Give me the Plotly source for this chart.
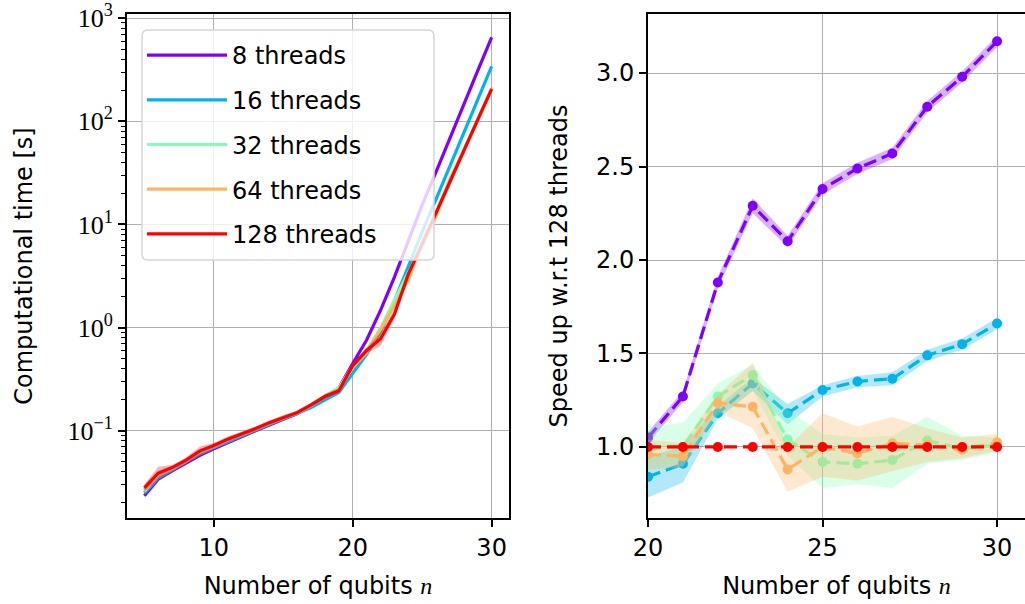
import plotly.graph_objects as go

# ---------------- data ----------------
n_left = list(range(5, 31))
t_8 = [0.0235, 0.034, 0.041, 0.049, 0.058, 0.067, 0.077, 0.088, 0.100, 0.114, 0.130, 0.147, 0.175, 0.215, 0.26,
       0.45, 0.76, 1.47, 3.09, 6.9, 15.5, 32.4, 69.4, 147, 310, 650]
t_16 = [0.025, 0.035, 0.042, 0.050, 0.060, 0.069, 0.079, 0.090, 0.102, 0.116, 0.131, 0.146, 0.168, 0.200, 0.235,
        0.36, 0.55, 0.92, 1.81, 3.9, 8.5, 17.6, 36.9, 77.5, 161, 340]
t_32 = [0.026, 0.037, 0.043, 0.052, 0.062, 0.071, 0.082, 0.092, 0.104, 0.119, 0.134, 0.149, 0.176, 0.220, 0.26,
        0.426, 0.60, 0.99, 1.87, 3.43, 5.98, 11.8, 25.1, 53.8, 103, 207]
t_64 = [0.027, 0.038, 0.0435, 0.051, 0.063, 0.071, 0.082, 0.093, 0.105, 0.120, 0.135, 0.150, 0.177, 0.215, 0.25,
        0.413, 0.57, 0.963, 1.64, 2.9, 6.5, 12.5, 27.5, 52.5, 102, 210]
t_128 = [0.028, 0.039, 0.044, 0.052, 0.064, 0.072, 0.083, 0.093, 0.105, 0.120, 0.135, 0.150, 0.178, 0.215, 0.245,
         0.43, 0.60, 0.78, 1.35, 3.3, 6.5, 13.0, 27.0, 52.0, 104, 205]
# relative spread of the timing bands (left panel)
rel_8 = [0.03] * 26
rel_16 = [0.04] * 26
rel_32 = [0.04] * 26
rel_64 = [0.05] * 26
rel_128 = [0.08, 0.15, 0.06, 0.06, 0.10, 0.06, 0.06, 0.05, 0.05, 0.05, 0.05, 0.05, 0.05, 0.05, 0.05,
           0.06, 0.06, 0.15, 0.10, 0.06, 0.05, 0.05, 0.05, 0.05, 0.05, 0.05]

n_right = list(range(20, 31))
s_8 = [1.05, 1.27, 1.88, 2.29, 2.10, 2.38, 2.49, 2.57, 2.82, 2.98, 3.17]
s_8_lo = [1.02, 1.24, 1.85, 2.25, 2.07, 2.35, 2.46, 2.54, 2.79, 2.95, 3.14]
s_8_hi = [1.08, 1.30, 1.91, 2.33, 2.13, 2.41, 2.52, 2.60, 2.85, 3.01, 3.20]
s_16 = [0.84, 0.91, 1.18, 1.34, 1.18, 1.305, 1.35, 1.365, 1.49, 1.55, 1.66]
s_16_lo = [0.73, 0.81, 1.15, 1.30, 1.12, 1.27, 1.32, 1.33, 1.46, 1.52, 1.63]
s_16_hi = [0.95, 1.00, 1.22, 1.37, 1.23, 1.33, 1.38, 1.40, 1.52, 1.58, 1.69]
s_32 = [0.99, 1.00, 1.27, 1.385, 1.04, 0.92, 0.91, 0.93, 1.035, 0.99, 1.01]
s_32_lo = [0.88, 0.90, 1.17, 1.30, 0.95, 0.78, 0.80, 0.78, 0.91, 0.93, 0.97]
s_32_hi = [1.11, 1.13, 1.34, 1.44, 1.20, 1.07, 1.05, 1.06, 1.16, 1.06, 1.05]
s_64 = [0.96, 0.95, 1.235, 1.215, 0.88, 1.00, 0.965, 1.02, 1.01, 0.985, 1.025]
s_64_lo = [0.88, 0.89, 1.19, 1.10, 0.76, 0.84, 0.82, 0.87, 0.92, 0.94, 0.98]
s_64_hi = [1.04, 1.02, 1.28, 1.45, 1.00, 1.18, 1.11, 1.16, 1.10, 1.05, 1.07]
s_128 = [1.0] * 11

labels = ["8 threads", "16 threads", "32 threads", "64 threads", "128 threads"]
colors = ["#8000ff", "#00b4eb", "#80ffb4", "#ffb462", "#ff0000"]
fills = ["rgba(128,0,255,0.3)", "rgba(0,180,235,0.3)", "rgba(128,255,180,0.3)",
         "rgba(255,180,98,0.3)", "rgba(255,0,0,0.3)"]

times = [t_8, t_16, t_32, t_64, t_128]
rels = [rel_8, rel_16, rel_32, rel_64, rel_128]
speeds = [s_8, s_16, s_32, s_64, s_128]
speeds_lo = [s_8_lo, s_16_lo, s_32_lo, s_64_lo, None]
speeds_hi = [s_8_hi, s_16_hi, s_32_hi, s_64_hi, None]

FONT = "DejaVu Sans"
SERIF = "Liberation Serif"

fig = go.Figure()

# ---------------- left panel ----------------
for i in range(5):
    lo = [t * (1 - r) for t, r in zip(times[i], rels[i])]
    hi = [t * (1 + r) for t, r in zip(times[i], rels[i])]
    fig.add_trace(go.Scatter(x=n_left + n_left[::-1], y=hi + lo[::-1], fill="toself",
                             fillcolor=fills[i], line=dict(width=0), mode="lines",
                             hoverinfo="skip", showlegend=False, xaxis="x", yaxis="y"))
    fig.add_trace(go.Scatter(x=n_left, y=times[i], mode="lines", name=labels[i],
                             legendgroup=labels[i],
                             line=dict(color=colors[i], width=3.2), xaxis="x", yaxis="y"))

# ---------------- right panel ----------------
for i in range(5):
    if speeds_lo[i] is not None:
        fig.add_trace(go.Scatter(x=n_right + n_right[::-1], y=speeds_hi[i] + speeds_lo[i][::-1],
                                 fill="toself", fillcolor=fills[i], line=dict(width=0),
                                 mode="lines", hoverinfo="skip", showlegend=False,
                                 xaxis="x2", yaxis="y2"))
    fig.add_trace(go.Scatter(x=n_right, y=speeds[i], mode="lines+markers", showlegend=False,
                             line=dict(color=colors[i], width=3.2, dash="13px,6px"),
                             marker=dict(color=colors[i], size=10),
                             xaxis="x2", yaxis="y2"))

W, H = 1025, 604
TOP, BOT = 14, 518
PH = BOT - TOP


def px(x):
    return x / W


def py(y):
    return (BOT - y) / PH


axis_common = dict(showline=True, linecolor="black", linewidth=2, ticks="outside",
                   ticklen=7, tickwidth=1.5, tickcolor="black", showgrid=True,
                   gridcolor="#b0b0b0", gridwidth=1.3, zeroline=False, automargin=False,
                   ticklabeloverflow="allow")

TICKFONT = dict(family=FONT, size=24, color="black")
xtitle = "Number of qubits <span style=\"font-family:Liberation Serif\"><i>n</i></span>"

# rounded legend frame (matplotlib style), drawn above the curves, below the legend text
x0, x1, y0, y1, r = 142, 434, 30, 260, 6
rx, ry = r / W, r / PH
X0, X1, Y0, Y1 = px(x0), px(x1), py(y1), py(y0)
frame_path = (f"M{X0 + rx},{Y0} L{X1 - rx},{Y0} Q{X1},{Y0} {X1},{Y0 + ry} "
              f"L{X1},{Y1 - ry} Q{X1},{Y1} {X1 - rx},{Y1} L{X0 + rx},{Y1} "
              f"Q{X0},{Y1} {X0},{Y1 - ry} L{X0},{Y0 + ry} Q{X0},{Y0} {X0 + rx},{Y0} Z")
fig.add_shape(type="path", path=frame_path, xref="paper", yref="paper", layer="above",
              fillcolor="rgba(255,255,255,0.8)", line=dict(color="#d6d6d6", width=1.5))

fig.update_layout(
    width=W, height=H,
    margin=dict(l=0, r=0, t=TOP, b=H - BOT),
    paper_bgcolor="white", plot_bgcolor="white",
    font=dict(family=FONT, size=24, color="black"),
    xaxis=dict(domain=[px(127), px(509)], range=[3.75, 31.25], tickvals=[10, 20, 30],
               mirror=True, tickfont=TICKFONT,
               title=dict(text=xtitle, font=dict(size=24), standoff=16),
               **axis_common),
    yaxis=dict(type="log", range=[-1.845, 3.04], mirror=True,
               tickvals=[0.1, 1, 10, 100, 1000],
               ticktext=["10<sup>\u22121</sup>", "10<sup>0</sup>", "10<sup>1</sup>",
                         "10<sup>2</sup>", "10<sup>3</sup>"],
               tickfont=dict(family=SERIF, size=26, color="black"),
               minor=dict(ticks="outside", ticklen=4, tickwidth=1, tickcolor="black",
                          dtick="D1", showgrid=False),
               title=dict(text="Computational time [s]", font=dict(size=24), standoff=28),
               **axis_common),
    xaxis2=dict(domain=[px(648), 1.0], range=[20, 30.8], tickvals=[20, 25, 30],
                mirror=True, anchor="y2", tickfont=TICKFONT,
                title=dict(text=xtitle, font=dict(size=24), standoff=16), **axis_common),
    yaxis2=dict(range=[0.62, 3.316], anchor="x2", tickvals=[1.0, 1.5, 2.0, 2.5, 3.0],
                tickformat=".1f", tickfont=TICKFONT,
                title=dict(text="Speed up w.r.t 128 threads", font=dict(size=24), standoff=22),
                **axis_common),
    legend=dict(x=px(142), y=py(33), xanchor="left", yanchor="top",
                bgcolor="rgba(0,0,0,0)", borderwidth=0,
                font=dict(family=FONT, size=24, color="black"),
                traceorder="grouped", tracegroupgap=10.5, itemwidth=80),
)

# remove the browser's default 8px body margin so the figure fills the window exactly
fig.write_html("out.html", config={"displayModeBar": False},
               post_script="document.body.style.margin='0px';document.body.style.overflow='hidden';")
